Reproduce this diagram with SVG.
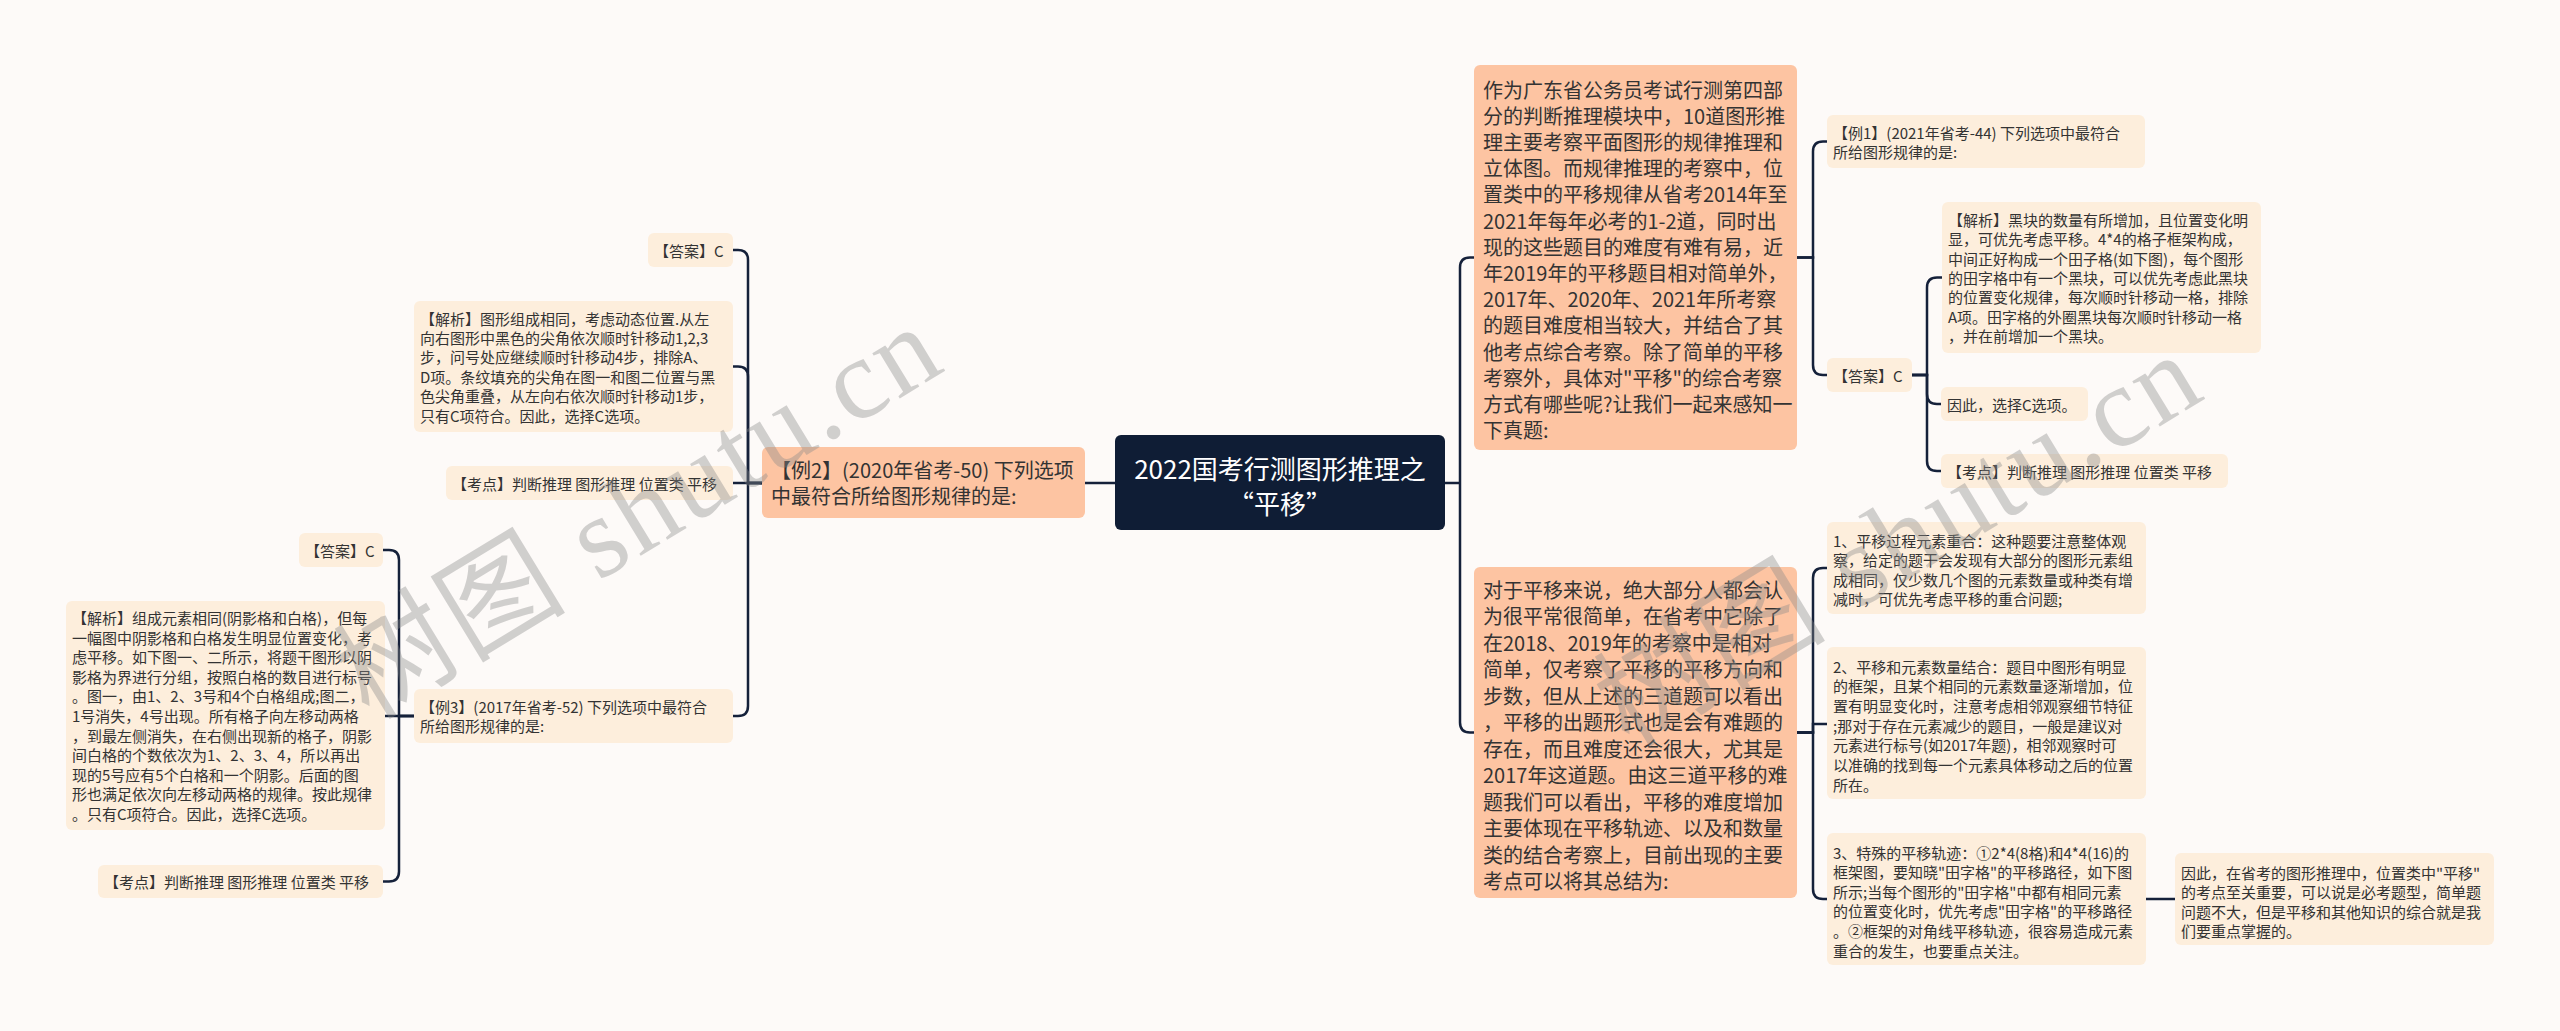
<svg xmlns="http://www.w3.org/2000/svg" width="2560" height="1031" viewBox="0 0 2560 1031">
<style>
.bg{fill:#fdfaf8}
.nb{fill:#fdc4a2}
.ns{fill:#fdeedc}
.rt{fill:#0f1d35}
text{font-family:"Noto Sans CJK SC","Noto Sans",sans-serif;fill:#333;dominant-baseline:central}
.t20{font-size:20px}
.t15{font-size:15px}
.tr{font-size:26px;fill:#fff;text-anchor:middle}
.conn path{fill:none;stroke:#15213a;stroke-width:2.5}
.wm{font-family:"Liberation Serif","Noto Sans CJK SC",serif;font-size:115px;fill:#8a8a8a;opacity:0.38;dominant-baseline:alphabetic}
</style>
<rect class="bg" x="0" y="0" width="2560" height="1031"/>

<g id="connectors" class="conn">
<path d="M1115,483 H1085"/>
<path d="M762,483 H748 V260 Q748,250 738,250 H733"/>
<path d="M762,483 H748 V376.5 Q748,366.5 738,366.5 H733"/>
<path d="M762,483 H733"/>
<path d="M762,483 H748 V706 Q748,716 738,716 H733"/>
<path d="M414,716 H399 V560 Q399,550 389,550 H383"/>
<path d="M414,716 H385"/>
<path d="M414,716 H399 V871.5 Q399,881.5 389,881.5 H383"/>
<path d="M1445,483 H1460"/>
<path d="M1460,483 V267.5 Q1460,257.5 1470,257.5 H1474"/>
<path d="M1460,483 V722.5 Q1460,732.5 1470,732.5 H1474"/>
<path d="M1797,257.5 H1813 V151.5 Q1813,141.5 1823,141.5 H1827"/>
<path d="M1797,257.5 H1813 V365 Q1813,375 1823,375 H1827"/>
<path d="M1912,375 H1927 V287.5 Q1927,277.5 1937,277.5 H1942"/>
<path d="M1912,375 H1927 V394 Q1927,404 1937,404 H1941"/>
<path d="M1912,375 H1927 V461 Q1927,471 1937,471 H1941"/>
<path d="M1797,732.5 H1813 V578 Q1813,568 1823,568 H1827"/>
<path d="M1797,732.5 H1813 V724 H1827"/>
<path d="M1797,732.5 H1813 V889 Q1813,899 1823,899 H1827"/>
<path d="M2146,899 H2175"/>
</g>

<g id="root">
<rect class="rt" x="1115" y="435" width="330" height="95" rx="6"/>
<text class="tr" x="1280" y="467">2022国考行测图形推理之</text>
<text class="tr" x="1280" y="502">“平移”</text>
</g>

<g id="ex2">
<rect class="nb" x="762" y="447" width="323" height="71" rx="6"/>
<text class="t20" x="771" y="469.5">【例2】(2020年省考-50) 下列选项</text>
<text class="t20" x="771" y="495.5">中最符合所给图形规律的是:</text>
</g>

<g id="l-ans1">
<rect class="ns" x="648" y="233" width="85" height="34" rx="6"/>
<text class="t15" x="654" y="250">【答案】C</text>
</g>

<g id="l-ana1">
<rect class="ns" x="414" y="301" width="319" height="131" rx="6"/>
<text class="t15" x="420" y="318">【解析】图形组成相同，考虑动态位置.从左</text>
<text class="t15" x="420" y="337.4">向右图形中黑色的尖角依次顺时针移动1,2,3</text>
<text class="t15" x="420" y="356.8">步，问号处应继续顺时针移动4步，排除A、</text>
<text class="t15" x="420" y="376.2">D项。条纹填充的尖角在图一和图二位置与黑</text>
<text class="t15" x="420" y="395.6">色尖角重叠，从左向右依次顺时针移动1步，</text>
<text class="t15" x="420" y="415">只有C项符合。因此，选择C选项。</text>
</g>

<g id="l-kd1">
<rect class="ns" x="446" y="466" width="287" height="34" rx="6"/>
<text class="t15" x="452" y="483">【考点】判断推理 图形推理 位置类 平移</text>
</g>

<g id="l-ex3">
<rect class="ns" x="414" y="689" width="319" height="54" rx="6"/>
<text class="t15" x="420" y="706.3">【例3】(2017年省考-52) 下列选项中最符合</text>
<text class="t15" x="420" y="725.7">所给图形规律的是:</text>
</g>

<g id="l-ans2">
<rect class="ns" x="299" y="533" width="84" height="34" rx="6"/>
<text class="t15" x="305" y="550">【答案】C</text>
</g>

<g id="l-ana2">
<rect class="ns" x="66" y="601" width="319" height="229" rx="6"/>
<text class="t15" x="72" y="617.5">【解析】组成元素相同(阴影格和白格)，但每</text>
<text class="t15" x="72" y="637.1">一幅图中阴影格和白格发生明显位置变化，考</text>
<text class="t15" x="72" y="656.7">虑平移。如下图一、二所示，将题干图形以阴</text>
<text class="t15" x="72" y="676.3">影格为界进行分组，按照白格的数目进行标号</text>
<text class="t15" x="72" y="695.9">。图一，由1、2、3号和4个白格组成;图二，</text>
<text class="t15" x="72" y="715.5">1号消失，4号出现。所有格子向左移动两格</text>
<text class="t15" x="72" y="735.1">，到最左侧消失，在右侧出现新的格子，阴影</text>
<text class="t15" x="72" y="754.7">间白格的个数依次为1、2、3、4，所以再出</text>
<text class="t15" x="72" y="774.3">现的5号应有5个白格和一个阴影。后面的图</text>
<text class="t15" x="72" y="793.9">形也满足依次向左移动两格的规律。按此规律</text>
<text class="t15" x="72" y="813.5">。只有C项符合。因此，选择C选项。</text>
</g>

<g id="l-kd2">
<rect class="ns" x="98" y="865" width="285" height="33" rx="6"/>
<text class="t15" x="104" y="881.5">【考点】判断推理 图形推理 位置类 平移</text>
</g>

<g id="r-main1">
<rect class="nb" x="1474" y="65" width="323" height="385" rx="6"/>
<text class="t20" x="1483" y="89">作为广东省公务员考试行测第四部</text>
<text class="t20" x="1483" y="115.2">分的判断推理模块中，10道图形推</text>
<text class="t20" x="1483" y="141.4">理主要考察平面图形的规律推理和</text>
<text class="t20" x="1483" y="167.6">立体图。而规律推理的考察中，位</text>
<text class="t20" x="1483" y="193.8">置类中的平移规律从省考2014年至</text>
<text class="t20" x="1483" y="220">2021年每年必考的1-2道，同时出</text>
<text class="t20" x="1483" y="246.2">现的这些题目的难度有难有易，近</text>
<text class="t20" x="1483" y="272.4">年2019年的平移题目相对简单外，</text>
<text class="t20" x="1483" y="298.6">2017年、2020年、2021年所考察</text>
<text class="t20" x="1483" y="324.8">的题目难度相当较大，并结合了其</text>
<text class="t20" x="1483" y="351">他考点综合考察。除了简单的平移</text>
<text class="t20" x="1483" y="377.2">考察外，具体对"平移"的综合考察</text>
<text class="t20" x="1483" y="403.4">方式有哪些呢?让我们一起来感知一</text>
<text class="t20" x="1483" y="429.6">下真题:</text>
</g>

<g id="r-ex1">
<rect class="ns" x="1827" y="115" width="318" height="53" rx="6"/>
<text class="t15" x="1833" y="132">【例1】(2021年省考-44) 下列选项中最符合</text>
<text class="t15" x="1833" y="151.5">所给图形规律的是:</text>
</g>

<g id="r-ans">
<rect class="ns" x="1827" y="358" width="85" height="34" rx="6"/>
<text class="t15" x="1833" y="375">【答案】C</text>
</g>

<g id="r-ana">
<rect class="ns" x="1942" y="202" width="319" height="151" rx="6"/>
<text class="t15" x="1948" y="219.3">【解析】黑块的数量有所增加，且位置变化明</text>
<text class="t15" x="1948" y="238.7">显，可优先考虑平移。4*4的格子框架构成，</text>
<text class="t15" x="1948" y="258.1">中间正好构成一个田子格(如下图)，每个图形</text>
<text class="t15" x="1948" y="277.5">的田字格中有一个黑块，可以优先考虑此黑块</text>
<text class="t15" x="1948" y="296.9">的位置变化规律，每次顺时针移动一格，排除</text>
<text class="t15" x="1948" y="316.3">A项。田字格的外圈黑块每次顺时针移动一格</text>
<text class="t15" x="1948" y="335.7">，并在前增加一个黑块。</text>
</g>

<g id="r-thus">
<rect class="ns" x="1941" y="387" width="147" height="34" rx="6"/>
<text class="t15" x="1947" y="404">因此，选择C选项。</text>
</g>

<g id="r-kd">
<rect class="ns" x="1941" y="454" width="287" height="34" rx="6"/>
<text class="t15" x="1947" y="471">【考点】判断推理 图形推理 位置类 平移</text>
</g>

<g id="r-main2">
<rect class="nb" x="1474" y="567" width="323" height="331" rx="6"/>
<text class="t20" x="1483" y="589">对于平移来说，绝大部分人都会认</text>
<text class="t20" x="1483" y="615.5">为很平常很简单，在省考中它除了</text>
<text class="t20" x="1483" y="642">在2018、2019年的考察中是相对</text>
<text class="t20" x="1483" y="668.5">简单，仅考察了平移的平移方向和</text>
<text class="t20" x="1483" y="695">步数，但从上述的三道题可以看出</text>
<text class="t20" x="1483" y="721.5">，平移的出题形式也是会有难题的</text>
<text class="t20" x="1483" y="748">存在，而且难度还会很大，尤其是</text>
<text class="t20" x="1483" y="774.5">2017年这道题。由这三道平移的难</text>
<text class="t20" x="1483" y="801">题我们可以看出，平移的难度增加</text>
<text class="t20" x="1483" y="827.5">主要体现在平移轨迹、以及和数量</text>
<text class="t20" x="1483" y="854">类的结合考察上，目前出现的主要</text>
<text class="t20" x="1483" y="880.5">考点可以将其总结为:</text>
</g>

<g id="r-c1">
<rect class="ns" x="1827" y="522" width="319" height="92" rx="6"/>
<text class="t15" x="1833" y="540.5">1、平移过程元素重合：这种题要注意整体观</text>
<text class="t15" x="1833" y="559.9">察，给定的题干会发现有大部分的图形元素组</text>
<text class="t15" x="1833" y="579.3">成相同，仅少数几个图的元素数量或种类有增</text>
<text class="t15" x="1833" y="598.7">减时，可优先考虑平移的重合问题;</text>
</g>

<g id="r-c2">
<rect class="ns" x="1827" y="647" width="319" height="152" rx="6"/>
<text class="t15" x="1833" y="666">2、平移和元素数量结合：题目中图形有明显</text>
<text class="t15" x="1833" y="685.7">的框架，且某个相同的元素数量逐渐增加，位</text>
<text class="t15" x="1833" y="705.4">置有明显变化时，注意考虑相邻观察细节特征</text>
<text class="t15" x="1833" y="725.1">;那对于存在元素减少的题目，一般是建议对</text>
<text class="t15" x="1833" y="744.8">元素进行标号(如2017年题)，相邻观察时可</text>
<text class="t15" x="1833" y="764.5">以准确的找到每一个元素具体移动之后的位置</text>
<text class="t15" x="1833" y="784.2">所在。</text>
</g>

<g id="r-c3">
<rect class="ns" x="1827" y="833" width="319" height="132" rx="6"/>
<text class="t15" x="1833" y="852">3、特殊的平移轨迹：①2*4(8格)和4*4(16)的</text>
<text class="t15" x="1833" y="871.6">框架图，要知晓"田字格"的平移路径，如下图</text>
<text class="t15" x="1833" y="891.2">所示;当每个图形的"田字格"中都有相同元素</text>
<text class="t15" x="1833" y="910.8">的位置变化时，优先考虑"田字格"的平移路径</text>
<text class="t15" x="1833" y="930.4">。②框架的对角线平移轨迹，很容易造成元素</text>
<text class="t15" x="1833" y="950">重合的发生，也要重点关注。</text>
</g>

<g id="r-c3a">
<rect class="ns" x="2175" y="853" width="319" height="92" rx="6"/>
<text class="t15" x="2181" y="872">因此，在省考的图形推理中，位置类中"平移"</text>
<text class="t15" x="2181" y="891.6">的考点至关重要，可以说是必考题型，简单题</text>
<text class="t15" x="2181" y="911.2">问题不大，但是平移和其他知识的综合就是我</text>
<text class="t15" x="2181" y="930.8">们要重点掌握的。</text>
</g>

<g id="watermarks">
<text class="wm" transform="translate(369,721) rotate(-31.3)" textLength="676" lengthAdjust="spacing">树图 shutu.cn</text>
<text class="wm" transform="translate(1629,749) rotate(-31.3)" textLength="676" lengthAdjust="spacing">树图 shutu.cn</text>
</g>
</svg>
